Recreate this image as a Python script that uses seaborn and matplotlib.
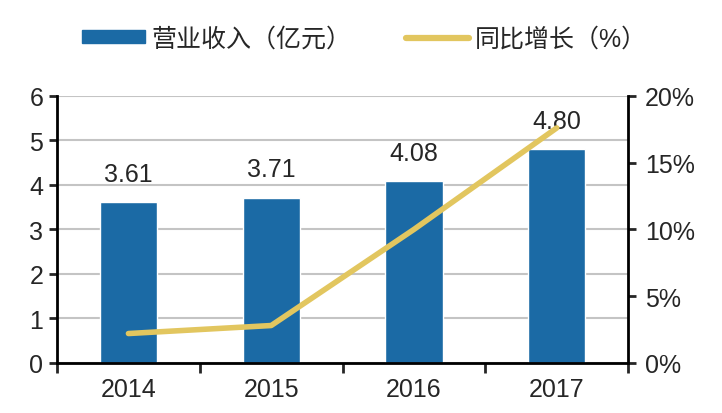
import pandas as pd
import seaborn as sns
import matplotlib.pyplot as plt
from matplotlib.patches import Patch
from matplotlib.lines import Line2D
from matplotlib.ticker import FuncFormatter, FixedLocator

years = ['2014', '2015', '2016', '2017']
revenue = [3.61, 3.71, 4.08, 4.80]
growth = [2.2, 2.8, 10.0, 17.6]

bar_color = '#1B6AA5'
line_color = '#E2C65F'

sns.set_style("white")
plt.rcParams['font.family'] = ['Liberation Sans', 'Noto Sans CJK SC']

df = pd.DataFrame({'year': years, 'revenue': revenue, 'growth': growth})

fig = plt.figure(figsize=(7.22, 4.14), dpi=100)
ax = fig.add_axes([0.079, 0.121, 0.791, 0.645])

sns.barplot(data=df, x='year', y='revenue', color=bar_color, width=0.4,
            saturation=1, ax=ax)
ax.set_ylim(0, 6)
ax.set_xlim(-0.5, 3.5)
ax.set_yticks(range(0, 7))
ax.set_xlabel('')
ax.set_ylabel('')
ax.yaxis.grid(True, color='#c4c4c4', linewidth=1.5)
ax.set_axisbelow(True)

for i, v in enumerate(revenue):
    ax.annotate(f'{v:.2f}', xy=(i, v), xytext=(0, 12), textcoords='offset points',
                ha='center', va='bottom', fontsize=18)

ax2 = ax.twinx()
sns.pointplot(data=df, x='year', y='growth', color=line_color, markers='',
              linewidth=4, ax=ax2)
ax2.set_ylim(0, 20)
ax2.set_xlim(-0.5, 3.5)
ax2.set_yticks([0, 5, 10, 15, 20])
ax2.yaxis.set_major_formatter(FuncFormatter(lambda v, p: f'{v:.0f}%'))
ax2.set_ylabel('')
ax2.set_xlabel('')
ax2.grid(False)

for a in (ax, ax2):
    a.spines['top'].set_visible(False)
    for s in ['left', 'right', 'bottom']:
        a.spines[s].set_linewidth(2)
        a.spines[s].set_color('black')

ax.spines['right'].set_visible(False)
ax2.spines['left'].set_visible(False)
ax2.spines['bottom'].set_visible(False)

ax.tick_params(axis='y', direction='out', length=6, width=2, labelsize=18,
               left=True, pad=4)
ax.tick_params(axis='x', which='major', length=0, labelsize=18, pad=10)
ax.xaxis.set_minor_locator(FixedLocator([-0.5, 0.5, 1.5, 2.5, 3.5]))
ax.tick_params(axis='x', which='minor', direction='out', length=7, width=2,
               bottom=True)
ax2.tick_params(axis='y', direction='out', length=6, width=2, labelsize=18,
                right=True, pad=6)

handles = [Patch(facecolor=bar_color, edgecolor=bar_color),
           Line2D([0], [0], color=line_color, linewidth=4.5)]
fig.legend(handles, ['营业收入（亿元）', '同比增长（%）'], loc='center',
           bbox_to_anchor=(0.505, 0.905), ncol=2, frameon=False, fontsize=18,
           handlelength=2.5, handleheight=0.45, columnspacing=2.2,
           handletextpad=0.25)

fig.savefig('out.png', dpi=100)
